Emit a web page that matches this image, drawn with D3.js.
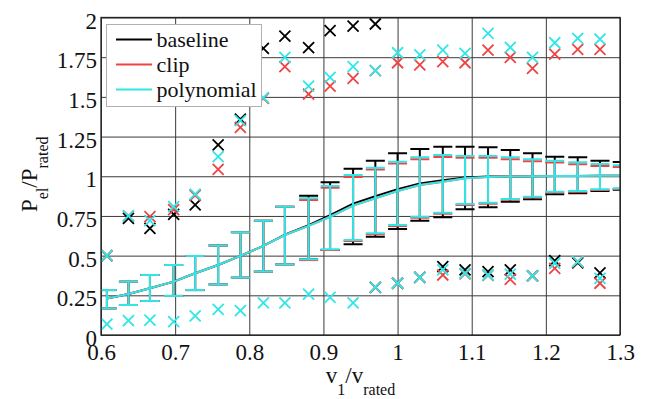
<!DOCTYPE html>
<html>
<head>
<meta charset="utf-8">
<script src="https://cdn.jsdelivr.net/npm/d3@7"></script>
<style>
  body { margin: 0; background: #fff; }
</style>
</head>
<body>
<div id="container"></div>
<script>
/* CONSTANTS AND GLOBALS */
const width = 657,
  height = 399,
  margin = { top: 17.5, right: 37, bottom: 64, left: 101 },
  capHalf = 9.5,
  markerHalf = 5.5,
  serif = "'Liberation Serif', 'Times New Roman', Times, serif";

/* DATA */
const windSpeed = [0.608, 0.637, 0.666, 0.698, 0.727, 0.758, 0.788, 0.819, 0.848, 0.880, 0.909, 0.940,
  0.970, 1.000, 1.030, 1.061, 1.091, 1.122, 1.152, 1.182, 1.212, 1.243, 1.273, 1.303];

const baselineMean = [0.23, 0.258, 0.294, 0.336, 0.389, 0.441, 0.498, 0.561, 0.632, 0.692, 0.755, 0.828,
  0.874, 0.918, 0.955, 0.975, 0.992, 0.998, 0.999, 1.0, 1.001, 1.002, 1.003, 1.004];
const baselineUpper = [0.283, 0.336, 0.378, 0.441, 0.498, 0.563, 0.647, 0.72, 0.808, 0.877, 0.962, 1.048,
  1.098, 1.145, 1.172, 1.186, 1.186, 1.182, 1.165, 1.145, 1.123, 1.119, 1.098, 1.09];
const baselineLower = [0.168, 0.189, 0.214, 0.246, 0.283, 0.319, 0.361, 0.399, 0.445, 0.477, 0.535, 0.571,
  0.619, 0.668, 0.72, 0.741, 0.792, 0.804, 0.84, 0.855, 0.886, 0.893, 0.907, 0.915];
const baselineMax = [0.5, 0.735, 0.672, 0.76, 0.819, 1.197, 1.36, 1.806, 1.883, 1.81, 1.917, 1.946,
  1.959, null, null, null, null, null, null, null, null, null, null, null];
const baselineMin = [null, null, null, null, null, null, null, null, null, null, null, null,
  0.3, 0.326, 0.363, 0.43, 0.41, 0.399, 0.41, 0.372, 0.468, 0.455, 0.392, null];

const clipMean = [0.23, 0.258, 0.294, 0.336, 0.389, 0.441, 0.498, 0.561, 0.63, 0.687, 0.745, 0.815,
  0.861, 0.907, 0.945, 0.966, 0.987, 0.996, 0.998, 1.0, 1.001, 1.002, 1.003, 1.004];
const clipUpper = [0.283, 0.336, 0.378, 0.441, 0.498, 0.563, 0.647, 0.72, 0.808, 0.85, 0.927, 0.996,
  1.042, 1.08, 1.107, 1.122, 1.116, 1.116, 1.107, 1.095, 1.086, 1.076, 1.065, 1.058];
const clipLower = [0.168, 0.189, 0.214, 0.246, 0.283, 0.319, 0.361, 0.399, 0.445, 0.472, 0.536, 0.592,
  0.635, 0.687, 0.739, 0.764, 0.819, 0.827, 0.852, 0.866, 0.898, 0.902, 0.913, 0.92];
const clipMax = [0.5, 0.75, 0.745, 0.79, 0.88, 1.044, 1.308, 1.49, 1.69, 1.518, 1.568, 1.617,
  1.665, 1.715, 1.701, 1.722, 1.715, 1.795, 1.749, 1.68, 1.77, 1.799, 1.799, null];
const clipMin = [null, null, null, null, null, null, null, null, null, null, null, null,
  0.3, 0.326, 0.363, 0.378, 0.385, 0.375, 0.351, 0.372, 0.42, 0.46, 0.326, null];

const polyMean = [0.23, 0.258, 0.294, 0.336, 0.389, 0.441, 0.498, 0.561, 0.63, 0.687, 0.745, 0.815,
  0.861, 0.907, 0.945, 0.966, 0.987, 0.996, 0.998, 1.0, 1.001, 1.002, 1.003, 1.004];
const polyUpper = [0.283, 0.336, 0.378, 0.441, 0.498, 0.563, 0.647, 0.72, 0.808, 0.861, 0.939, 1.008,
  1.054, 1.092, 1.119, 1.134, 1.128, 1.128, 1.119, 1.107, 1.098, 1.088, 1.077, 1.07];
const polyLower = [0.168, 0.189, 0.214, 0.246, 0.283, 0.319, 0.361, 0.399, 0.445, 0.477, 0.54, 0.598,
  0.641, 0.693, 0.745, 0.77, 0.825, 0.833, 0.857, 0.871, 0.903, 0.907, 0.918, 0.925];
const polyMax = [0.5, 0.75, 0.72, 0.808, 0.888, 1.123, 1.35, 1.495, 1.749, 1.568, 1.623, 1.69,
  1.665, 1.778, 1.764, 1.795, 1.774, 1.9, 1.812, 1.749, 1.841, 1.869, 1.864, null];
const polyMin = [0.069, 0.09, 0.094, 0.084, 0.12, 0.162, 0.153, 0.203, 0.203, 0.258, 0.237, 0.203,
  0.3, 0.326, 0.363, 0.41, 0.389, 0.378, 0.384, 0.372, 0.452, 0.462, 0.357, null];

const xTicks = [0.6, 0.7, 0.8, 0.9, 1, 1.1, 1.2, 1.3];
const yTicks = [0, 0.25, 0.5, 0.75, 1, 1.25, 1.5, 1.75, 2];
const seriesNames = ["baseline", "clip", "polynomial"];
const seriesColors = ["#000000", "#f04444", "#30e6e6"];

// build the series table from the arrays
const series = [
  { mean: baselineMean, upper: baselineUpper, lower: baselineLower, max: baselineMax, min: baselineMin },
  { mean: clipMean, upper: clipUpper, lower: clipLower, max: clipMax, min: clipMin },
  { mean: polyMean, upper: polyUpper, lower: polyLower, max: polyMax, min: polyMin }
].map((s, i) => ({
  name: seriesNames[i],
  color: seriesColors[i],
  points: windSpeed.map((v, j) => ({
    v: v, mean: s.mean[j], upper: s.upper[j], lower: s.lower[j], max: s.max[j], min: s.min[j]
  }))
}));

/* SCALES */
const xScale = d3.scaleLinear().domain([0.6, 1.3]).range([margin.left, width - margin.right]);
const yScale = d3.scaleLinear().domain([0, 2]).range([height - margin.bottom, margin.top]);
const plotW = width - margin.left - margin.right,
  plotH = height - margin.top - margin.bottom;

/* SVG */
const svg = d3.select("#container").append("svg")
  .attr("width", width)
  .attr("height", height)
  .style("font-family", serif);

svg.append("clipPath").attr("id", "plot-clip")
  .append("rect")
  .attr("x", margin.left).attr("y", margin.top)
  .attr("width", plotW).attr("height", plotH);

// x axis + vertical grid
const xAxis = svg.append("g")
  .attr("transform", `translate(0, ${height - margin.bottom})`)
  .call(d3.axisBottom(xScale).tickValues(xTicks).tickSize(-plotH).tickFormat(d3.format("")));
xAxis.attr("font-family", null).attr("font-size", null);
xAxis.select(".domain").remove();
xAxis.selectAll("line").attr("stroke", "#3a3a3a").attr("stroke-width", 1);
xAxis.selectAll("text")
  .attr("y", 25).attr("dy", null)
  .style("font-family", serif)
  .style("font-size", "23px")
  .attr("fill", "#111");

// y axis + horizontal grid
const yAxis = svg.append("g")
  .attr("transform", `translate(${margin.left}, 0)`)
  .call(d3.axisLeft(yScale).tickValues(yTicks).tickSize(-plotW).tickFormat(d3.format("")));
yAxis.attr("font-family", null).attr("font-size", null);
yAxis.select(".domain").remove();
yAxis.selectAll("line").attr("stroke", "#3a3a3a").attr("stroke-width", 1);
yAxis.selectAll("text")
  .attr("x", -4).attr("y", 10.5).attr("dy", null)
  .style("font-family", serif)
  .style("font-size", "23px")
  .attr("fill", "#111");

// DATA LAYER
const plot = svg.append("g").attr("clip-path", "url(#plot-clip)");

const lineGen = d3.line().x(d => xScale(d.v)).y(d => yScale(d.mean));

series.forEach(s => {
  const g = plot.append("g").attr("class", "series");

  // mean curve
  g.append("path")
    .datum(s.points)
    .attr("d", lineGen)
    .attr("fill", "none")
    .attr("stroke", s.color)
    .attr("stroke-width", 2);

  // error bars
  const bars = g.selectAll(".bar")
    .data(s.points)
    .join("g")
    .attr("class", "bar");
  bars.append("line")
    .attr("x1", d => xScale(d.v)).attr("x2", d => xScale(d.v))
    .attr("y1", d => yScale(d.upper)).attr("y2", d => yScale(d.lower));
  bars.append("line")
    .attr("x1", d => xScale(d.v) - capHalf).attr("x2", d => xScale(d.v) + capHalf)
    .attr("y1", d => yScale(d.upper)).attr("y2", d => yScale(d.upper));
  bars.append("line")
    .attr("x1", d => xScale(d.v) - capHalf).attr("x2", d => xScale(d.v) + capHalf)
    .attr("y1", d => yScale(d.lower)).attr("y2", d => yScale(d.lower));
  bars.selectAll("line")
    .attr("stroke", s.color)
    .attr("stroke-width", 2);

  // max and min markers
  const marks = s.points.flatMap(d => [
    d.max != null ? { v: d.v, y: d.max } : null,
    d.min != null ? { v: d.v, y: d.min } : null
  ]).filter(d => d);
  g.selectAll(".mark")
    .data(marks)
    .join("path")
    .attr("class", "mark")
    .attr("transform", d => `translate(${xScale(d.v)}, ${yScale(d.y)})`)
    .attr("d", `M${-markerHalf},${-markerHalf}L${markerHalf},${markerHalf}M${-markerHalf},${markerHalf}L${markerHalf},${-markerHalf}`)
    .attr("fill", "none")
    .attr("stroke", s.color)
    .attr("stroke-width", 1.8);
});

// box
svg.append("rect")
  .attr("x", margin.left).attr("y", margin.top)
  .attr("width", plotW).attr("height", plotH)
  .attr("fill", "none")
  .attr("stroke", "#222")
  .attr("stroke-width", 1.3);

// LEGEND
const legend = svg.append("g").attr("transform", "translate(106.5, 24.5)");
legend.append("rect")
  .attr("width", 155).attr("height", 82)
  .attr("fill", "#fff")
  .attr("stroke", "#b0b0b0")
  .attr("stroke-width", 1);
const items = legend.selectAll(".item")
  .data(series)
  .join("g")
  .attr("class", "item")
  .attr("transform", (d, i) => `translate(0, ${15 + i * 25})`);
items.append("line")
  .attr("x1", 9.5).attr("x2", 45.5)
  .attr("stroke", d => d.color)
  .attr("stroke-width", 2);
items.append("text")
  .attr("x", 50).attr("y", 7)
  .style("font-family", serif)
  .style("font-size", "22px")
  .attr("fill", "#111")
  .text(d => d.name);

// AXIS TITLES
const xTitle = svg.append("text")
  .attr("x", margin.left + plotW / 2)
  .attr("y", 383)
  .attr("text-anchor", "middle")
  .attr("fill", "#111")
  .style("font-family", serif)
  .style("font-size", "23px");
xTitle.append("tspan").text("v");
xTitle.append("tspan").style("font-size", "16px").attr("dy", 12).text("1");
xTitle.append("tspan").attr("dy", -12).text("/v");
xTitle.append("tspan").style("font-size", "16px").attr("dy", 12).text("rated");

const yTitle = svg.append("text")
  .attr("transform", `translate(37, ${margin.top + plotH / 2 - 2}) rotate(-90)`)
  .attr("text-anchor", "middle")
  .attr("fill", "#111")
  .style("font-family", serif)
  .style("font-size", "23px");
yTitle.append("tspan").text("P");
yTitle.append("tspan").style("font-size", "16px").attr("dy", 11).text("el");
yTitle.append("tspan").attr("dy", -11).text("/P");
yTitle.append("tspan").style("font-size", "16px").attr("dy", 11).text("rated");
</script>
</body>
</html>
